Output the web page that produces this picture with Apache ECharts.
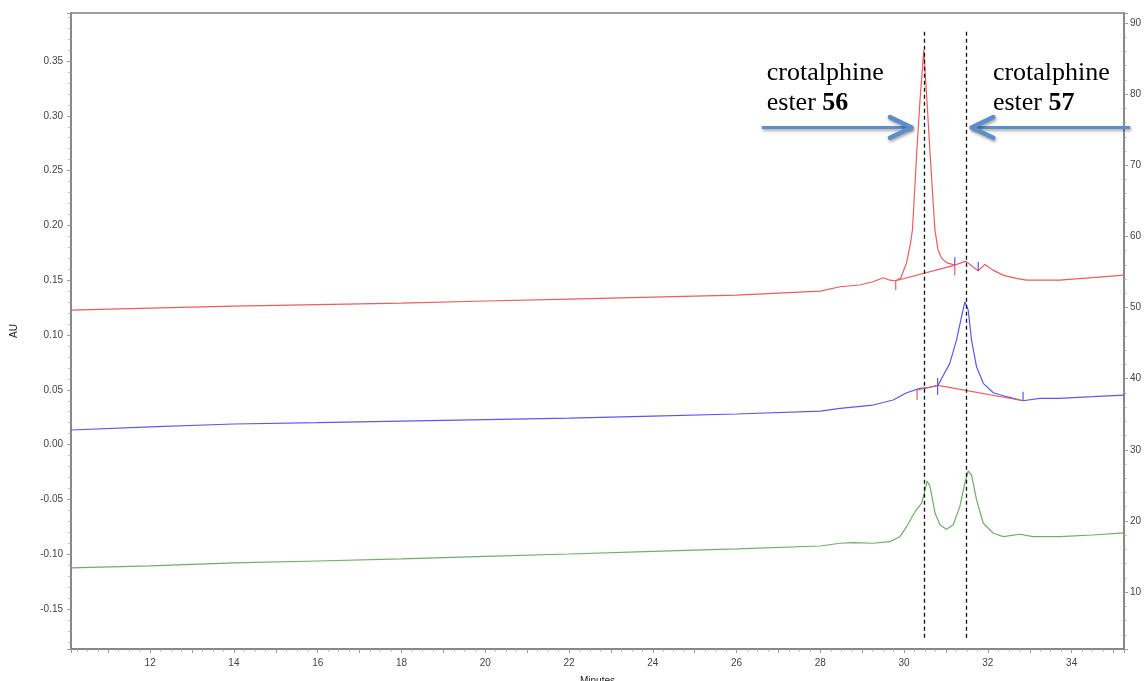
<!DOCTYPE html>
<html><head><meta charset="utf-8">
<script src="https://cdn.jsdelivr.net/npm/echarts@6/dist/echarts.min.js"></script>
<style>html,body{margin:0;padding:0;background:#fff}#c{width:1145px;height:681px}</style>
</head><body><div id="c"></div>
<script>
// ---- data (minutes, AU) ----
const redTime = [10.11,12,14,16,18,20,22,24,26,28,28.47,28.94,29.26,29.5,29.66,29.80,29.92,30.06,30.155,30.20,30.305,30.38,30.47,30.545,30.615,30.735,30.81,30.895,31.01,31.21,31.475,31.64,31.77,31.93,32.12,32.36,32.68,32.92,33.71,34.5,35.25];
const redAU   = [0.1227,0.1245,0.1264,0.1278,0.1291,0.1310,0.1328,0.1346,0.1364,0.1401,0.1440,0.1456,0.1486,0.1522,0.1500,0.1495,0.1520,0.1660,0.1842,0.1961,0.2686,0.3142,0.3599,0.3142,0.2686,0.1961,0.1775,0.1702,0.1660,0.1637,0.1674,0.1622,0.1586,0.1644,0.1592,0.1546,0.1516,0.1501,0.1501,0.1523,0.1546];

const blueTime = [10.11,12,14,16,18,20,22,24,26,28,28.47,29.26,29.74,30.06,30.38,30.615,30.81,31.09,31.25,31.37,31.45,31.53,31.61,31.73,31.89,32.13,32.45,32.84,33.24,33.71,34.5,35.25];
const blueAU   = [0.0133,0.0161,0.0188,0.0200,0.0215,0.0228,0.0242,0.0260,0.0279,0.0306,0.0331,0.0361,0.0407,0.0473,0.0513,0.0523,0.0541,0.0741,0.0954,0.1166,0.1303,0.1228,0.0954,0.0710,0.0559,0.0473,0.0437,0.0400,0.0422,0.0422,0.0437,0.0452];

const greenTime = [10.11,12,14,16,18,20,22,24,26,28,28.47,28.79,29.26,29.66,29.90,30.06,30.26,30.42,30.50,30.55,30.62,30.74,30.86,31.01,31.17,31.33,31.45,31.53,31.61,31.73,31.89,32.13,32.37,32.76,33.08,33.71,34.5,35.25];
const greenAU   = [-0.1125,-0.1107,-0.1080,-0.1062,-0.1043,-0.1020,-0.0998,-0.0975,-0.0952,-0.0925,-0.0900,-0.0895,-0.0900,-0.0886,-0.0840,-0.0749,-0.0612,-0.0535,-0.0414,-0.0332,-0.0384,-0.0627,-0.0733,-0.0772,-0.0733,-0.0566,-0.0353,-0.0241,-0.0277,-0.0505,-0.0718,-0.0809,-0.0840,-0.0818,-0.0840,-0.0840,-0.0825,-0.0806];

// integration marks (baselines and peak ticks) drawn by the software
const redMarks = [
  [[29.80,0.1495],[29.80,0.1410]],
  [[29.80,0.1495],[31.21,0.1637]],
  [[31.21,0.1637],[31.21,0.1546]],
  [[30.31,0.0498],[30.31,0.0407]],
  [[30.31,0.0498],[30.81,0.0541],[32.84,0.0400]]
];
const blueMarks = [
  [[31.21,0.1637],[31.21,0.1710]],
  [[31.77,0.1586],[31.77,0.1665]],
  [[30.80,0.0607],[30.80,0.0452]],
  [[32.84,0.0400],[32.84,0.0482]]
];

// dashed guide lines at the two ester retention times
const guideTimes = [30.48, 31.49];
const guideTop = 0.3766, guideBottom = -0.178;

// annotations
const labels = [
  {t:26.72, au:0.3523, text:'crotalphine\nester {b|56}'},
  {t:32.12, au:0.3523, text:'crotalphine\nester {b|57}'}
];
const arrows = [
  {tail:26.60, tip:30.18, back:29.66, au:0.2894, half:0.0094},
  {tail:35.40, tip:31.61, back:32.13, au:0.2894, half:0.0094}
];

// axis extents
const xMin = 10.11, xMax = 35.25;
const auMin = -0.1865, auMax = 0.3938;
const rMin = 2, rMax = 91.4;

const chart = echarts.init(document.getElementById('c'));
const pairs = (t, v) => t.map((x, i) => [x, v[i]]);
const FONT = 'Liberation Sans, Arial, sans-serif';
const fmtX = v => { const r = Math.round(v); return (Math.abs(v - r) < 1e-6 && r % 2 === 0) ? String(r) : ''; };
const fmtL = v => { const k = v / 0.05, r = Math.round(k); return Math.abs(k - r) < 1e-6 ? (r * 5 / 100 + 0).toFixed(2) : ''; };
const fmtR = v => { const k = v / 10, r = Math.round(k); return Math.abs(k - r) < 1e-6 ? String(r * 10) : ''; };

const axisLine = {show:true, onZero:false, lineStyle:{color:'#808080', width:1.5}};
const axisTick = {show:true, length:4, lineStyle:{color:'#999', width:1}};
const lblStyle = {fontSize:10, color:'#444', fontFamily:FONT};

const markSeries = (segs, color) => segs.map(s => ({
  type:'line', data:s, yAxisIndex:0, showSymbol:false, silent:true, animation:false,
  lineStyle:{color, width:1.2}, z:3
}));

const option = {
  animation:false,
  grid:{left:71, right:21, top:13, bottom:32, outerBoundsMode:'none', containLabel:false,
    show:true, borderColor:'#808080', borderWidth:1.5, backgroundColor:'#fff'},
  xAxis:{type:'value', min:xMin, max:xMax, splitNumber:25,
    axisLine, axisTick, minorTick:{show:true, splitNumber:4, length:2.5, lineStyle:{color:'#aaa'}},
    splitLine:{show:false}, minorSplitLine:{show:false},
    axisLabel:Object.assign({formatter:fmtX, margin:9}, lblStyle),
    name:'Minutes', nameLocation:'middle', nameGap:27, nameTextStyle:{fontSize:10, color:'#222', fontFamily:FONT}},
  yAxis:[
    {type:'value', min:auMin, max:auMax, splitNumber:12, position:'left',
      axisLine, axisTick, minorTick:{show:true, splitNumber:5, length:2.5, lineStyle:{color:'#aaa'}},
      splitLine:{show:false},
      axisLabel:Object.assign({formatter:fmtL, margin:8}, lblStyle),
      name:'AU', nameLocation:'middle', nameGap:52, nameRotate:90, nameTextStyle:{fontSize:10, color:'#222', fontFamily:FONT}},
    {type:'value', min:rMin, max:rMax, splitNumber:9, position:'right',
      axisLine, axisTick, minorTick:{show:true, splitNumber:5, length:2.5, lineStyle:{color:'#aaa'}},
      splitLine:{show:false},
      axisLabel:Object.assign({formatter:fmtR, margin:6}, lblStyle)}
  ],
  series:[
    {type:'line', name:'red', data:pairs(redTime, redAU), showSymbol:false, lineStyle:{color:'#ee5c5c', width:1.2}, z:2,
      markLine:{silent:true, symbol:'none', animation:false, label:{show:false},
        lineStyle:{color:'#111', type:[4,3], width:1.3},
        data:guideTimes.map(t => [{coord:[t, guideTop]}, {coord:[t, guideBottom]}])}},
    {type:'line', name:'blue', data:pairs(blueTime, blueAU), showSymbol:false, lineStyle:{color:'#5858f4', width:1.2}, z:2},
    {type:'line', name:'green', data:pairs(greenTime, greenAU), showSymbol:false, lineStyle:{color:'#6cb163', width:1.2}, z:2}
  ].concat(markSeries(redMarks, '#ee5c5c'), markSeries(blueMarks, '#5858f4'))
};
chart.setOption(option);

const px = (t, au) => chart.convertToPixel({xAxisIndex:0, yAxisIndex:0}, [t, au]);
const ARROW = '#5b8fca';
const shadow = {shadowBlur:3, shadowColor:'rgba(0,0,0,0.35)', shadowOffsetX:1, shadowOffsetY:2};
const graphics = [];
labels.forEach(l => {
  const p = px(l.t, l.au);
  graphics.push({type:'text', z:100, style:{x:p[0], y:p[1], text:l.text, fill:'#000',
    fontSize:26, fontFamily:'Liberation Serif, Times New Roman, serif', lineHeight:30, verticalAlign:'top', align:'left',
    rich:{b:{fontWeight:'bold', fontSize:26, fontFamily:'Liberation Serif, Times New Roman, serif', lineHeight:30}}}});
});
arrows.forEach(a => {
  const tail = px(a.tail, a.au), tip = px(a.tip, a.au);
  const b1 = px(a.back, a.au + a.half), b2 = px(a.back, a.au - a.half);
  graphics.push({type:'line', z:100, shape:{x1:tail[0], y1:tail[1], x2:tip[0], y2:tip[1]},
    style:Object.assign({stroke:ARROW, lineWidth:3}, shadow)});
  graphics.push({type:'polyline', z:100, shape:{points:[b1, tip, b2]},
    style:Object.assign({stroke:ARROW, lineWidth:4.5, lineCap:'round', lineJoin:'round', fill:null}, shadow)});
});
chart.setOption({graphic:graphics});
</script></body></html>
